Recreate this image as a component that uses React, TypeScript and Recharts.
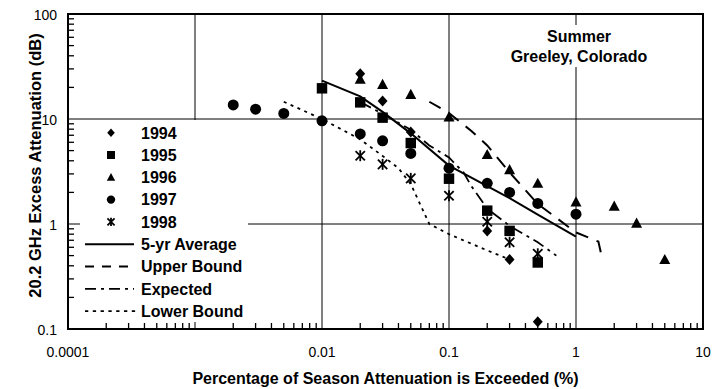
import React from 'react';
import {
  ComposedChart,
  Scatter,
  Line,
  XAxis,
  YAxis,
  ReferenceLine,
  ReferenceArea,
  Legend,
} from 'recharts';

const FONT = '"Liberation Sans", Arial, Helvetica, sans-serif';
const K = '#000';

// ---- data: percentage of season exceeded (x) vs attenuation in dB (y) ----
const x1994 = [0.02, 0.03, 0.05, 0.2, 0.3, 0.5];
const y1994 = [27, 14.8, 7.5, 0.86, 0.46, 0.117];
const x1995 = [0.01, 0.02, 0.03, 0.05, 0.1, 0.2, 0.3, 0.5];
const y1995 = [19.6, 14.4, 10.3, 5.9, 2.7, 1.34, 0.86, 0.43];
const x1996 = [0.02, 0.03, 0.05, 0.1, 0.2, 0.3, 0.5, 1, 2, 3, 5];
const y1996 = [24, 21.4, 17.2, 10.5, 4.6, 3.3, 2.45, 1.63, 1.48, 1.02, 0.46];
const x1997 = [0.002, 0.003, 0.005, 0.01, 0.02, 0.03, 0.05, 0.1, 0.2, 0.3, 0.5, 1];
const y1997 = [13.6, 12.4, 11.3, 9.6, 7.2, 6.2, 4.7, 3.4, 2.44, 2.0, 1.57, 1.24];
const x1998 = [0.02, 0.03, 0.05, 0.1, 0.2, 0.3, 0.5];
const y1998 = [4.47, 3.7, 2.72, 1.86, 1.05, 0.67, 0.52];

const xAvg = [0.01, 0.02, 0.03, 0.05, 0.1, 0.2, 0.3, 0.5, 1];
const yAvg = [23.2, 16.4, 11.7, 7.3, 3.6, 2.3, 1.76, 1.23, 0.76];
const xUpper = [0.07, 0.1, 0.15, 0.2, 0.3, 0.5, 1, 1.5, 1.6];
const yUpper = [14.6, 11.4, 7.7, 5.6, 3.1, 1.55, 0.83, 0.68, 0.48];
const xExpected = [0.02, 0.03, 0.05, 0.07, 0.1, 0.13, 0.15, 0.2, 0.3, 0.5, 0.7];
const yExpected = [14.5, 11.2, 7.9, 5.6, 4.3, 3.1, 2.3, 1.4, 0.96, 0.67, 0.5];
const xLower = [0.005, 0.01, 0.02, 0.03, 0.04, 0.05, 0.07, 0.1, 0.2, 0.3];
const yLower = [14.6, 10, 6.4, 4.45, 3.4, 2.4, 1.0, 0.8, 0.56, 0.46];

// ---- axes ----
const xMajor = [0.0001, 0.001, 0.01, 0.1, 1, 10];
const yMajor = [0.1, 1, 10, 100];
const xLabelled = [0.0001, 0.01, 0.1, 1, 10];
const xLabels = ['0.0001', '0.01', '0.1', '1', '10'];
const yLabels = ['0.1', '1', '10', '100'];
const minorMultipliers = [2, 3, 4, 5, 6, 7, 8, 9];

const xTitle = 'Percentage of Season Attenuation is Exceeded (%)';
const yTitle = '20.2 GHz Excess Attenuation (dB)';
const titleLines = ['Summer', 'Greeley, Colorado'];

const legendNames = ['1994', '1995', '1996', '1997', '1998', '5-yr Average', 'Upper Bound', 'Expected', 'Lower Bound'];
const legendKinds = ['diamond', 'square', 'triangle', 'circle', 'star', 'solid', 'upper', 'expected', 'lower'];

const pts = (xs: number[], ys: number[]) => xs.map((x, i) => ({ x, y: ys[i] }));

const buildMinors = (majors: number[]) => {
  const out: number[] = [];
  majors.forEach((m, i) => {
    if (i < majors.length - 1) minorMultipliers.forEach((k) => out.push(+(m * k).toPrecision(6)));
  });
  return out;
};
const xMinor = buildMinors(xMajor);
const yMinor = buildMinors(yMajor);

const dashes: Record<string, string | undefined> = {
  solid: undefined,
  upper: '13 9',
  expected: '12 5 3 5',
  lower: '3 4.5',
};
const legendDashes: Record<string, string | undefined> = {
  solid: undefined,
  upper: '9 8',
  expected: '11 5 3 5',
  lower: '3.3 4.5',
};
const widths: Record<string, number> = { solid: 2, upper: 2, expected: 1.8, lower: 1.8 };

function marker(kind: string, cx: number, cy: number, s: number) {
  switch (kind) {
    case 'diamond':
      return <polygon points={`${cx},${cy - s} ${cx + s * 0.9},${cy} ${cx},${cy + s} ${cx - s * 0.9},${cy}`} fill={K} />;
    case 'square':
      return <rect x={cx - s * 0.95} y={cy - s * 0.95} width={s * 1.9} height={s * 1.9} fill={K} />;
    case 'triangle':
      return <polygon points={`${cx},${cy - s} ${cx + s},${cy + s * 0.85} ${cx - s},${cy + s * 0.85}`} fill={K} />;
    case 'circle':
      return <circle cx={cx} cy={cy} r={s} fill={K} />;
    case 'star':
    default: {
      const d = s * 0.85;
      return (
        <g stroke={K} strokeWidth={1.8}>
          <line x1={cx - d} y1={cy - d} x2={cx + d} y2={cy + d} />
          <line x1={cx - d} y1={cy + d} x2={cx + d} y2={cy - d} />
          <line x1={cx} y1={cy - s} x2={cx} y2={cy + s} />
        </g>
      );
    }
  }
}

const shapeOf = (kind: string) => (p: any) => <g>{marker(kind, p.cx, p.cy, 5.5)}</g>;

// short inward ticks drawn from each reference line's own end points
const xMinorShape = (p: any) => {
  const yb = Math.max(Number(p.y1), Number(p.y2));
  return <line x1={p.x1} x2={p.x1} y1={yb} y2={yb - 6} stroke={K} strokeWidth={1.3} />;
};
const yMinorShape = (p: any) => {
  const xl = Math.min(Number(p.x1), Number(p.x2));
  return <line x1={xl} x2={xl + 6} y1={p.y1} y2={p.y1} stroke={K} strokeWidth={1.3} />;
};

const XTick = (props: any) => {
  const { x, y, payload } = props;
  const li = xLabelled.indexOf(payload.value);
  if (li < 0) return <g />;
  return (
    <text x={x} y={y + 28} textAnchor="middle" fontSize={14} fontFamily={FONT} fill={K}>
      {xLabels[li]}
    </text>
  );
};

const YTick = (props: any) => {
  const { x, y, payload } = props;
  const li = yMajor.indexOf(payload.value);
  if (li < 0) return <g />;
  return (
    <text x={x - 11} y={y + 6} textAnchor="end" fontSize={14} fontFamily={FONT} fill={K}>
      {yLabels[li]}
    </text>
  );
};

const LegendBox = () => {
  const rows = legendNames.map((n, i) => ({ n, kind: legendKinds[i], y: 12.7 + i * 22.3 }));
  return (
    <svg width={168} height={202} style={{ display: 'block', background: '#fff' }}>
      {rows.map((r) => (
        <g key={r.n}>
          {['solid', 'upper', 'expected', 'lower'].indexOf(r.kind) >= 0 ? (
            <line
              x1={5}
              x2={r.kind === 'lower' ? 56 : 54}
              y1={r.y}
              y2={r.y}
              stroke={K}
              strokeWidth={widths[r.kind]}
              strokeDasharray={legendDashes[r.kind]}
            />
          ) : (
            marker(r.kind, 31, r.y, 4.2)
          )}
          <text x={61} y={r.y + 5.8} fontSize={16} fontWeight="bold" fontFamily={FONT} fill={K}>
            {r.n}
          </text>
        </g>
      ))}
    </svg>
  );
};

export default function App() {
  return (
    <div style={{ position: 'absolute', left: 0, top: 0, width: 713, height: 389, background: '#fff', fontFamily: FONT }}>
      <ComposedChart width={713} height={389} margin={{ top: 14, right: 10, bottom: 30, left: 8 }}>
        <XAxis
          dataKey="x"
          type="number"
          scale="log"
          domain={[0.0001, 10]}
          allowDataOverflow
          ticks={xMajor}
          interval={0}
          tick={<XTick />}
          tickLine={false}
          axisLine={false}
          tickSize={0}
          tickMargin={0}
          height={30}
          label={(p: any) => {
            const vb = p.viewBox || { x: 68, y: 329, width: 635 };
            return (
              <text x={vb.x + vb.width / 2} y={384} textAnchor="middle" fontSize={16} fontWeight="bold" fontFamily={FONT} fill={K}>
                {xTitle}
              </text>
            );
          }}
        />
        <YAxis
          dataKey="y"
          type="number"
          scale="log"
          domain={[0.1, 100]}
          allowDataOverflow
          ticks={yMajor}
          interval={0}
          tick={<YTick />}
          tickLine={false}
          axisLine={false}
          tickSize={0}
          tickMargin={0}
          width={60}
          label={(p: any) => {
            const vb = p.viewBox || { x: 8, y: 14, width: 60, height: 315 };
            const cx = vb.x + 27;
            const cy = vb.y + vb.height / 2 - 6;
            return (
              <text
                x={cx}
                y={cy}
                transform={`rotate(-90, ${cx}, ${cy})`}
                textAnchor="middle"
                dominantBaseline="central"
                fontSize={16.5}
                fontWeight="bold"
                fontFamily={FONT}
                fill={K}
              >
                {yTitle}
              </text>
            );
          }}
        />
        {xMajor.slice(1, -1).map((v) => (
          <ReferenceLine key={'gx' + v} x={v} stroke={K} strokeWidth={1} />
        ))}
        {yMajor.slice(1, -1).map((v) => (
          <ReferenceLine key={'gy' + v} y={v} stroke={K} strokeWidth={1} />
        ))}
        {xMinor.map((v) => (
          <ReferenceLine key={'mx' + v} x={v} stroke={K} shape={xMinorShape} />
        ))}
        {yMinor.map((v) => (
          <ReferenceLine key={'my' + v} y={v} stroke={K} shape={yMinorShape} />
        ))}
        <ReferenceArea x1={0.0001} x2={10} y1={0.1} y2={100} fill="none" fillOpacity={0} stroke={K} strokeWidth={2} ifOverflow="visible" />

        <Line data={pts(xAvg, yAvg)} dataKey="y" type="linear" stroke={K} strokeWidth={widths.solid} dot={false} activeDot={false} isAnimationActive={false} name="5-yr Average" />
        <Line data={pts(xUpper, yUpper)} dataKey="y" type="linear" stroke={K} strokeWidth={widths.upper} strokeDasharray={dashes.upper} dot={false} activeDot={false} isAnimationActive={false} name="Upper Bound" />
        <Line data={pts(xExpected, yExpected)} dataKey="y" type="linear" stroke={K} strokeWidth={widths.expected} strokeDasharray={dashes.expected} dot={false} activeDot={false} isAnimationActive={false} name="Expected" />
        <Line data={pts(xLower, yLower)} dataKey="y" type="linear" stroke={K} strokeWidth={widths.lower} strokeDasharray={dashes.lower} dot={false} activeDot={false} isAnimationActive={false} name="Lower Bound" />

        <Scatter data={pts(x1994, y1994)} name="1994" shape={shapeOf('diamond')} isAnimationActive={false} />
        <Scatter data={pts(x1995, y1995)} name="1995" shape={shapeOf('square')} isAnimationActive={false} />
        <Scatter data={pts(x1996, y1996)} name="1996" shape={shapeOf('triangle')} isAnimationActive={false} />
        <Scatter data={pts(x1997, y1997)} name="1997" shape={shapeOf('circle')} isAnimationActive={false} />
        <Scatter data={pts(x1998, y1998)} name="1998" shape={shapeOf('star')} isAnimationActive={false} />

        <Legend
          layout="vertical"
          align="center"
          verticalAlign="middle"
          content={() => <LegendBox />}
          wrapperStyle={{ left: 80, top: 120, width: 168, height: 202, background: '#fff', margin: 0, padding: 0 }}
        />
      </ComposedChart>
      <div
        style={{
          position: 'absolute',
          left: 507,
          top: 25,
          width: 144,
          height: 42,
          background: '#fff',
          textAlign: 'center',
          fontFamily: FONT,
          fontWeight: 'bold',
          fontSize: 16,
          lineHeight: '20px',
          paddingTop: 2,
          boxSizing: 'border-box',
          color: K,
        }}
      >
        {titleLines.map((t) => (
          <div key={t}>{t}</div>
        ))}
      </div>
    </div>
  );
}
